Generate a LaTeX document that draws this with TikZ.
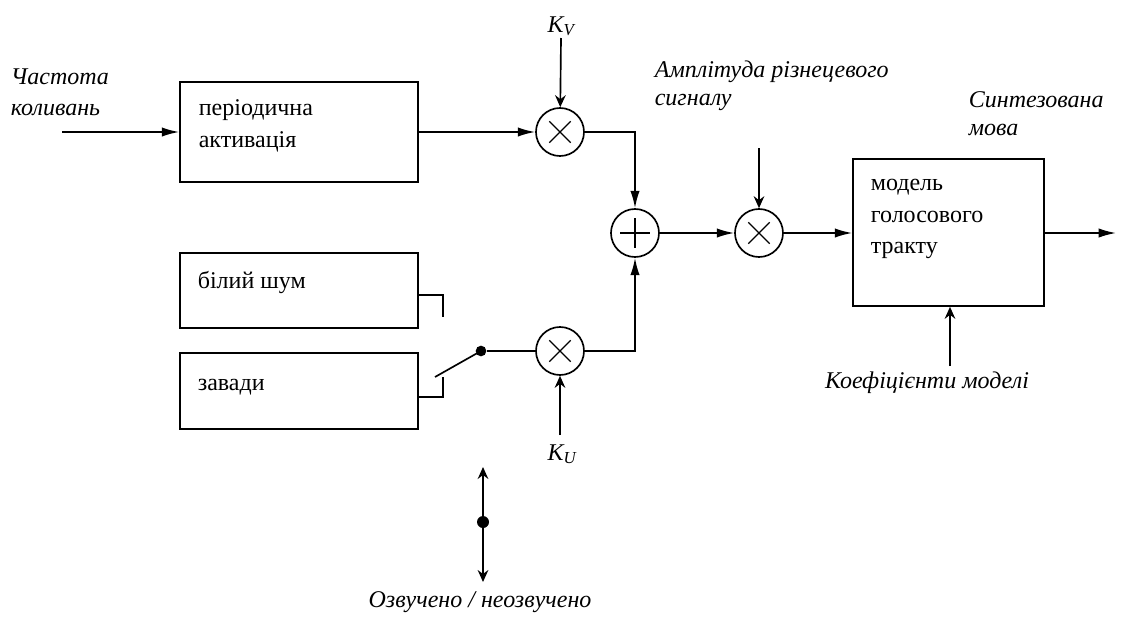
\documentclass[tikz,border=0pt]{standalone}
\usepackage{fontspec}
\setmainfont{Liberation Serif}
\usetikzlibrary{arrows.meta}
\begin{document}
\begin{tikzpicture}[x=0.75pt,y=-0.75pt,
  line width=1.25pt,
  blk/.style={draw, line width=1.25pt, minimum width=178.5pt, inner sep=0pt},
  btxt/.style={anchor=base west, inner sep=0pt, font=\fontsize{18}{22}\selectfont},
  lbl/.style={anchor=base west, inner sep=0pt, font=\fontsize{18}{22}\selectfont\itshape},
  op/.style={draw, circle, minimum size=36pt, inner sep=0pt, line width=1.25pt},
  mul/.style={op, path picture={
      \draw[line width=1pt] ([shift={(-8pt,-8pt)}]path picture bounding box.center) -- ([shift={(8pt,8pt)}]path picture bounding box.center);
      \draw[line width=1pt] ([shift={(-8pt,8pt)}]path picture bounding box.center) -- ([shift={(8pt,-8pt)}]path picture bounding box.center);}},
  addop/.style={op, path picture={
      \draw[line width=1pt] ([shift={(-11pt,0pt)}]path picture bounding box.center) -- ([shift={(11pt,0pt)}]path picture bounding box.center);
      \draw[line width=1pt] ([shift={(0pt,-11pt)}]path picture bounding box.center) -- ([shift={(0pt,11pt)}]path picture bounding box.center);}},
  fat/.style={-{Latex[length=13pt,width=7pt]}},
  thin/.style={-{Stealth[length=9pt,width=8pt,inset=3pt]}},
  dthin/.style={{Stealth[length=9pt,width=8pt,inset=3pt]}-{Stealth[length=9pt,width=8pt,inset=3pt]}},
  dotn/.style={circle, fill, inner sep=0pt, minimum size=#1},
]
\useasboundingbox (0,0) rectangle (1121,618);

% blocks
\node[blk, minimum height=75pt] (pa) at (299,132) {};
\node[blk, minimum height=56.25pt] (wn) at (299,290.5) {};
\node[blk, minimum height=57pt] (nz) at (299,391) {};
\node[draw, line width=1.25pt, inner sep=0pt, minimum width=143.25pt, minimum height=110.25pt] (vt) at (948.5,232.5) {};

% block texts
\node[btxt] (pa1) at (198,115) {періодична};
\node[btxt] (pa2) at (198,147) {активація};
\node[btxt] (wn1) at (197,288) {білий шум};
\node[btxt] (nz1) at (197,390) {завади};
\node[btxt] (vt1) at (870,190) {модель};
\node[btxt] (vt2) at (870,222) {голосового};
\node[btxt] (vt3) at (870,253) {тракту};

% operators
\node[mul] (m1) at (560,132) {};
\node[addop] (sum) at (635,233) {};
\node[mul] (m2) at (560,351) {};
\node[mul] (m3) at (759,233) {};

% labels
\node[lbl] (f1) at (10,84) {Частота};
\node[lbl] (f2) at (10,115) {коливань};
\node[lbl, anchor=base] (kv) at (561,32) {\textit{K}\textsubscript{\textit{V}}};
\node[lbl, anchor=base] (ku) at (562,460) {\textit{K}\textsubscript{\textit{U}}};
\node[lbl] (a1) at (654,77) {Амплітуда різнецевого};
\node[lbl] (a2) at (654,105) {сигналу};
\node[lbl] (s1) at (968,107) {Синтезована};
\node[lbl] (s2) at (968,135) {мова};
\node[lbl, anchor=base] (cf) at (927,388) {Коефіцієнти моделі};
\node[lbl, anchor=base] (vu) at (480,607) {Озвучено / неозвучено};

% free ends
\coordinate (fin) at (62,132);
\coordinate (out) at (1116,233);
\coordinate (kvs) at (561,38);
\coordinate (ams) at (759,148);
\coordinate (kus) at (560,435);
\coordinate (cfs) at (950,366);

% main connectors
\draw[fat] (fin) -- (pa.west);
\draw[fat] (pa.east) -- (m1);
\draw[thin] (kvs) -- (m1);
\draw[fat] (m1.east) -| (sum.north);
\draw[fat] (m2.east) -| (sum.south);
\draw[fat] (sum) -- (m3);
\draw[thin] (ams) -- (m3);
\draw[fat] (m3.east) -- (m3.east -| vt.west);
\draw[fat] (vt.east |- m3) -- (out);
\draw[thin] (kus) -- (m2);
\draw[thin] (cfs) -- (cfs |- vt.south);

% switch
\coordinate (sa) at (443,295);
\coordinate (sb) at (443,317);
\coordinate (sc) at (443,397);
\coordinate (sd) at (443,377);
\coordinate (se) at (435,377);
\node[dotn=8pt] (sw) at (481,351) {};
\draw (wn.east |- sa) -- (sa) -- (sb);
\draw (nz.east |- sc) -- (sc) -- (sd);
\draw (se) -- (sw.center);
\draw (sw) -- (m2);

% voiced / unvoiced selector
\coordinate (va) at (483,467);
\coordinate (vb) at (483,582);
\node[circle, fill, inner sep=0pt, minimum width=8pt, minimum height=9pt] (vd) at (483,522) {};
\draw[dthin] (va) -- (vb);
\end{tikzpicture}
\end{document}
